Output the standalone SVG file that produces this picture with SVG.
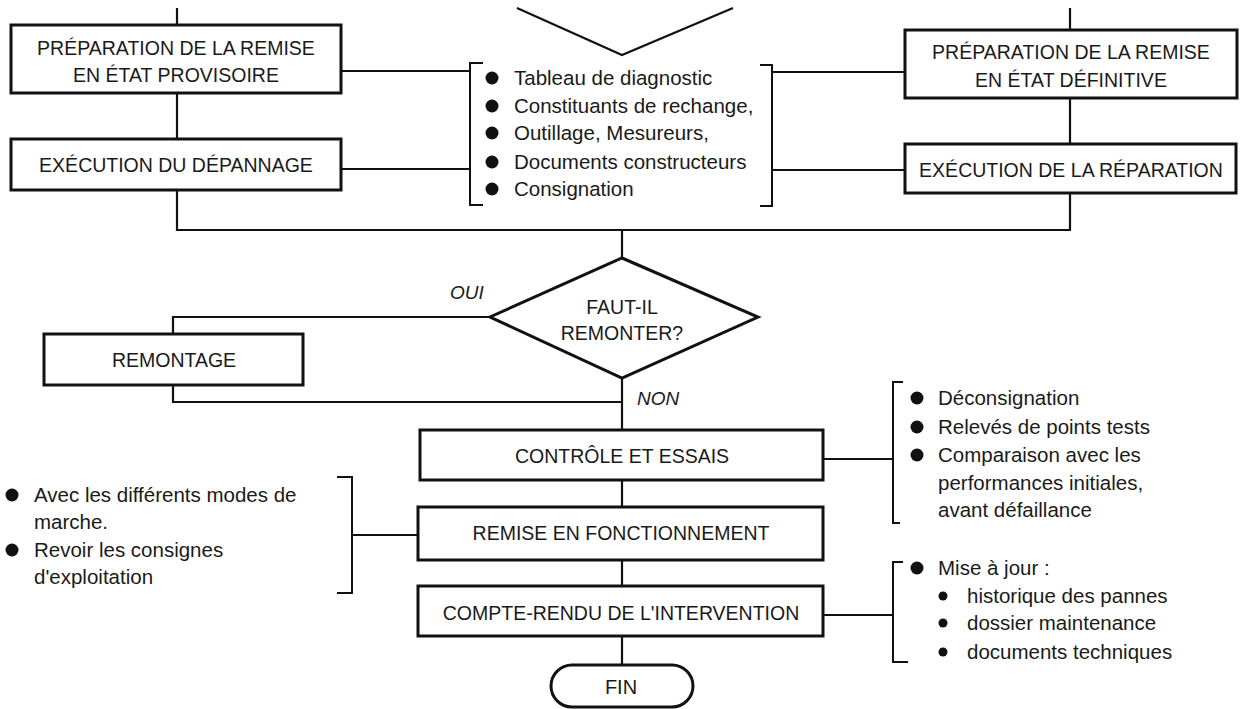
<svg xmlns="http://www.w3.org/2000/svg" width="1247" height="709" viewBox="0 0 1247 709">
<style>
.box{fill:#fff;stroke:#111;stroke-width:3}
.ln{fill:none;stroke:#111;stroke-width:2.2}
.br{fill:none;stroke:#111;stroke-width:2}
.t{font-family:"Liberation Sans",Arial,sans-serif;font-size:19.5px;fill:#1a1a1a;text-anchor:middle}
.b{font-family:"Liberation Sans",Arial,sans-serif;font-size:20.5px;fill:#1a1a1a}
.lab{font-family:"Liberation Sans",Arial,sans-serif;font-size:19px;font-style:italic;fill:#1a1a1a}
.dot{fill:#111}
</style>
<rect width="1247" height="709" fill="#fff"/>
<g id="connectors">
<path class="ln" d="M177,8 V25"/>
<path class="ln" d="M1070,8 V30"/>
<path class="ln" d="M517,8 L622,55 L733,8"/>
<path class="ln" d="M177,93 V139"/>
<path class="ln" d="M1070,98 V144"/>
<path class="ln" d="M341,71 H470"/>
<path class="ln" d="M341,169 H470"/>
<path class="ln" d="M772,72 H905"/>
<path class="ln" d="M772,170 H905"/>
<path class="ln" d="M177,190 V230 H1070 V193"/>
<path class="ln" d="M622,230 V258"/>
<path class="ln" d="M490,317 H173 V334"/>
<path class="ln" d="M173,385 V402 H622"/>
<path class="ln" d="M622,378 V430"/>
<path class="ln" d="M622,480 V507"/>
<path class="ln" d="M622,560 V586"/>
<path class="ln" d="M622,636 V665"/>
<path class="ln" d="M823,459 H893"/>
<path class="ln" d="M823,615 H893"/>
<path class="ln" d="M352,535 H418"/>
</g>
<g id="prep-provisoire">
<rect class="box" x="11" y="25" width="330" height="68"/>
<text class="t" x="176" y="55">PRÉPARATION DE LA REMISE</text>
<text class="t" x="176" y="82">EN ÉTAT PROVISOIRE</text>
</g>
<g id="exec-depannage">
<rect class="box" x="11" y="139" width="330" height="51"/>
<text class="t" x="176" y="172">EXÉCUTION DU DÉPANNAGE</text>
</g>
<g id="prep-definitive">
<rect class="box" x="905" y="30" width="332" height="68"/>
<text class="t" x="1071" y="59">PRÉPARATION DE LA REMISE</text>
<text class="t" x="1071" y="87">EN ÉTAT DÉFINITIVE</text>
</g>
<g id="exec-reparation">
<rect class="box" x="905" y="144" width="331" height="49"/>
<text class="t" x="1071" y="177">EXÉCUTION DE LA RÉPARATION</text>
</g>
<g id="ressources">
<path class="br" d="M483,63 H470 V205 H483"/>
<path class="br" d="M760,65 H772 V206 H760"/>
<circle class="dot" cx="492" cy="78" r="6.5"/>
<circle class="dot" cx="492" cy="106" r="6.5"/>
<circle class="dot" cx="492" cy="133" r="6.5"/>
<circle class="dot" cx="492" cy="162" r="6.5"/>
<circle class="dot" cx="492" cy="189" r="6.5"/>
<text class="b" x="514" y="85">Tableau de diagnostic</text>
<text class="b" x="514" y="113">Constituants de rechange,</text>
<text class="b" x="514" y="140">Outillage, Mesureurs,</text>
<text class="b" x="514" y="169">Documents constructeurs</text>
<text class="b" x="514" y="196">Consignation</text>
</g>
<g id="decision">
<polygon class="box" points="622,258 758,317 622,378 490,317"/>
<text class="t" x="622" y="314">FAUT-IL</text>
<text class="t" x="622" y="340">REMONTER?</text>
<text class="lab" x="450" y="299">OUI</text>
<text class="lab" x="637" y="405">NON</text>
</g>
<g id="remontage">
<rect class="box" x="44" y="334" width="259" height="51"/>
<text class="t" x="174" y="367">REMONTAGE</text>
</g>
<g id="controle">
<rect class="box" x="420" y="430" width="403" height="50"/>
<text class="t" x="622" y="463">CONTRÔLE ET ESSAIS</text>
</g>
<g id="controle-notes">
<path class="br" d="M903,382 H893 V523 H900"/>
<circle class="dot" cx="917" cy="398" r="6.5"/>
<circle class="dot" cx="917" cy="427" r="6.5"/>
<circle class="dot" cx="917" cy="455" r="6.5"/>
<text class="b" x="938" y="405">Déconsignation</text>
<text class="b" x="938" y="434">Relevés de points tests</text>
<text class="b" x="938" y="462">Comparaison avec les</text>
<text class="b" x="938" y="490">performances initiales,</text>
<text class="b" x="938" y="517">avant défaillance</text>
</g>
<g id="remise">
<rect class="box" x="418" y="507" width="405" height="53"/>
<text class="t" x="621" y="540">REMISE EN FONCTIONNEMENT</text>
</g>
<g id="remise-notes">
<path class="br" d="M337,477 H352 V593 H337"/>
<circle class="dot" cx="12" cy="495" r="6.5"/>
<circle class="dot" cx="12" cy="550" r="6.5"/>
<text class="b" x="34" y="502">Avec les différents modes de</text>
<text class="b" x="34" y="529">marche.</text>
<text class="b" x="34" y="557">Revoir les consignes</text>
<text class="b" x="34" y="584">d'exploitation</text>
</g>
<g id="compte-rendu">
<rect class="box" x="418" y="586" width="405" height="50"/>
<text class="t" x="621" y="620">COMPTE-RENDU DE L'INTERVENTION</text>
</g>
<g id="compte-rendu-notes">
<path class="br" d="M903,562 H893 V662 H908"/>
<circle class="dot" cx="917" cy="568" r="6.5"/>
<circle class="dot" cx="943" cy="596" r="4.5"/>
<circle class="dot" cx="943" cy="623" r="4.5"/>
<circle class="dot" cx="943" cy="652" r="4.5"/>
<text class="b" x="938" y="575">Mise à jour :</text>
<text class="b" x="967" y="603">historique des pannes</text>
<text class="b" x="967" y="630">dossier maintenance</text>
<text class="b" x="967" y="659">documents techniques</text>
</g>
<g id="fin">
<rect class="box" x="551" y="665" width="142" height="42" rx="21"/>
<text class="t" x="621" y="694" style="font-size:20px">FIN</text>
</g>
</svg>
